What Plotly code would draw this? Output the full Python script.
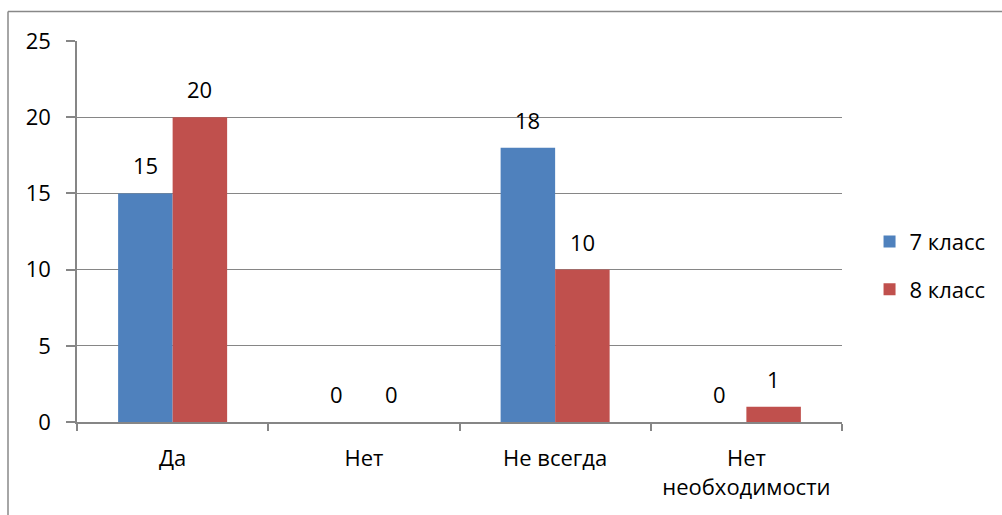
import plotly.graph_objects as go

categories = ["Да", "Нет", "Не всегда", "Нет<br>необходимости"]
series_names = ["7 класс", "8 класс"]
values_7 = [15, 0, 18, 0]
values_8 = [20, 0, 10, 1]
colors = ["#4F81BD", "#C0504D"]
y_ticks = [0, 5, 10, 15, 20, 25]

FONT = "Open Sans, Liberation Sans, sans-serif"
FS = 22
BARGAP = 0.43
L, R, T, B = 77, 160, 41, 93
fig = go.Figure()
for name, vals, col in zip(series_names, [values_7, values_8], colors):
    fig.add_trace(go.Bar(
        x=categories, y=vals, name=name, marker_color=col,
        marker_line_width=0, cliponaxis=False, legendgroup=name,
    ))

# data labels placed above each bar
plot_w = 1002 - L - R
bar_px = plot_w / len(categories) * (1 - BARGAP) / 2
for k, vals in enumerate([values_7, values_8]):
    shift = (k - 0.5) * bar_px
    for c, v in zip(categories, vals):
        fig.add_annotation(x=c, y=v, text=str(v), showarrow=False,
                           xshift=shift, yshift=11, yanchor="bottom",
                           font=dict(size=FS, color="black", family=FONT))

fig.update_layout(
    width=1002, height=515,
    margin=dict(l=L, r=R, t=T, b=B, autoexpand=False),
    paper_bgcolor="white", plot_bgcolor="white",
    barmode="group", bargap=BARGAP, bargroupgap=0,
    font=dict(family=FONT, size=FS, color="black"),
    showlegend=True,
    legend=dict(x=1.036, y=0.41, xanchor="left", yanchor="middle",
                font=dict(size=FS), tracegroupgap=16, itemwidth=30),
)
fig.update_xaxes(
    showline=True, linecolor="#868686", linewidth=1.5,
    ticks="outside", tickson="boundaries", ticklen=7, tickcolor="#868686",
    tickwidth=1.5, showgrid=False, tickfont=dict(size=FS),
    ticklabelstandoff=16, automargin=False,
)
fig.update_yaxes(
    range=[0, 25], tickvals=y_ticks, showline=True, linecolor="#868686",
    linewidth=1.5, ticks="outside", ticklen=9, tickcolor="#868686", tickwidth=1.5,
    showgrid=True, gridcolor="#868686", gridwidth=1.2, zeroline=False,
    tickfont=dict(size=FS), ticklabelstandoff=11, automargin=False,
)
# outer chart frame (extends beyond the captured image at right/bottom)
fx = (8 - L) / plot_w
fy = (515 - B - 11.5) / (515 - T - B)
fig.add_shape(type="line", xref="paper", yref="paper",
              x0=fx, x1=1.3, y0=fy, y1=fy,
              line=dict(color="#888888", width=1.5))
fig.add_shape(type="line", xref="paper", yref="paper",
              x0=fx, x1=fx, y0=fy, y1=-0.3,
              line=dict(color="#888888", width=1.5))
fig.write_html("out.html", config={"displayModeBar": False},
               post_script="document.body.style.margin='0';")
